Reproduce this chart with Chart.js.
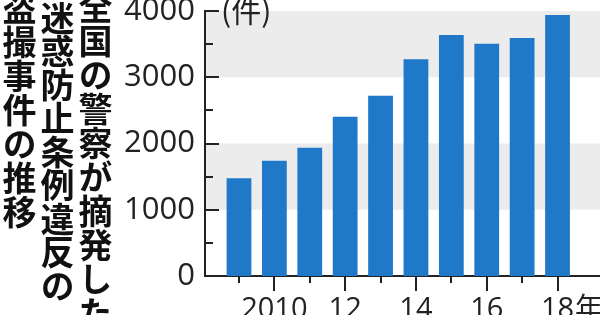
<!DOCTYPE html>
<html>
<head>
<meta charset="utf-8">
<script src="https://cdn.jsdelivr.net/npm/chart.js@4"></script>
<style>
  body { margin: 0; background: #fff; }
  #wrap { position: relative; width: 600px; height: 315px; overflow: hidden; }
  canvas { position: absolute; left: 0; top: 0; }
  .title {
    position: absolute;
    writing-mode: vertical-rl;
    font-family: "Noto Sans CJK JP", sans-serif;
    font-weight: bold;
    font-size: 34px;
    line-height: 34px;
    color: #111;
    white-space: nowrap;
  }
  #unit {
    position: absolute; left: 221px; top: -9px;
    font-family: "Noto Sans CJK JP", sans-serif;
    font-size: 30px; line-height: 36px; color: #222;
  }
</style>
</head>
<body>
<div id="wrap">
  <canvas id="chart" width="600" height="315"></canvas>
  <div class="title" style="left:78px; top:-10px;">全国の警察が摘発した</div>
  <div class="title" style="left:40px; top:1px; letter-spacing:-0.5px;">迷惑防止条例違反の</div>
  <div class="title" style="left:2px; top:-9px;">盗撮事件の推移</div>
  <div id="unit">(件)</div>
</div>
<script>
// data
const years = [2009, 2010, 2011, 2012, 2013, 2014, 2015, 2016, 2017, 2018];
const cases = [1475, 1740, 1937, 2405, 2721, 3271, 3638, 3506, 3592, 3940];
const yTicks = [0, 1000, 2000, 3000, 4000];
const xTickYears = [2010, 2012, 2014, 2016, 2018];
const xTickLabels = ['2010', '12', '14', '16', '18年'];

const barBlue = '#1f78c8';
const bandGray = '#ececec';
const inkColor = '#222';

// gray bands, custom ticks and bottom labels
const decor = {
      id: 'decor',
      beforeDraw(chart) {
            const { ctx, chartArea, scales: { y } } = chart;
            ctx.save();
            ctx.fillStyle = bandGray;
            [[1000, 2000], [3000, 4000]].forEach(([lo, hi]) => {
                  const top = y.getPixelForValue(hi);
                  const bottom = y.getPixelForValue(lo);
                  ctx.fillRect(chartArea.left, top, chartArea.right - chartArea.left, bottom - top);
            });
            ctx.restore();
      },
      afterDraw(chart) {
            const { ctx, chartArea, scales: { x, y } } = chart;
            ctx.save();
            ctx.strokeStyle = inkColor;
            ctx.lineWidth = 2;
            // y ticks point into the plot
            for (let v = 0; v <= 4000; v += 500) {
                  const py = Math.round(y.getPixelForValue(v));
                  const len = v % 1000 === 0 ? 14 : 8;
                  ctx.beginPath();
                  ctx.moveTo(chartArea.left, py);
                  ctx.lineTo(chartArea.left + len, py);
                  ctx.stroke();
            }
            // x ticks hang below the axis
            years.forEach(yr => {
                  const px = Math.round(x.getPixelForValue(yr));
                  const len = yr % 2 === 0 ? 15 : 7;
                  ctx.beginPath();
                  ctx.moveTo(px, chartArea.bottom);
                  ctx.lineTo(px, chartArea.bottom + len);
                  ctx.stroke();
            });
            // x labels, the number part centred on its tick
            ctx.fillStyle = inkColor;
            ctx.font = '29px "Open Sans"';
            ctx.textBaseline = 'alphabetic';
            ctx.textAlign = 'left';
            xTickYears.forEach((yr, i) => {
                  const px = x.getPixelForValue(yr);
                  const label = xTickLabels[i];
                  const num = label.replace('年', '');
                  const numW = ctx.measureText(num).width;
                  ctx.fillText(num, px - numW / 2, 318);
                  if (label !== num) {
                        ctx.font = '28px "Noto Sans CJK JP"';
                        ctx.fillText('年', px + numW / 2 + 1, 318);
                        ctx.font = '29px "Open Sans"';
                  }
            });
            ctx.restore();
      }
};

new Chart(document.getElementById('chart'), {
      type: 'bar',
      data: {
            datasets: [{
                  data: years.map((yr, i) => ({ x: yr, y: cases[i] })),
                  backgroundColor: barBlue,
                  borderWidth: 0,
                  barPercentage: 0.7,
                  categoryPercentage: 1.0
            }]
      },
      options: {
            responsive: false,
            animation: false,
            layout: { padding: { top: 11, right: 0, left: 0, bottom: 0 } },
            plugins: { legend: { display: false }, tooltip: { enabled: false } },
            scales: {
                  x: {
                        type: 'linear',
                        offset: false,
                        min: 2008.04,
                        max: 2019.2,
                        grid: { display: false },
                        border: { display: true, color: inkColor, width: 2 },
                        ticks: { display: false },
                        afterFit: s => { s.height = 39; s.paddingLeft = 0; s.paddingRight = 0; }
                  },
                  y: {
                        min: 0,
                        max: 4000,
                        afterBuildTicks: s => { s.ticks = yTicks.map(v => ({ value: v })); },
                        grid: { display: false, drawTicks: false },
                        border: { display: true, color: inkColor, width: 2 },
                        ticks: {
                              color: inkColor,
                              padding: 10,
                              font: { family: '"Open Sans"', size: 31 },
                              callback: v => String(v)
                        },
                        afterFit: s => { s.width = 205; s.paddingTop = 0; s.paddingBottom = 0; }
                  }
            }
      },
      plugins: [decor]
});
</script>
</body>
</html>
